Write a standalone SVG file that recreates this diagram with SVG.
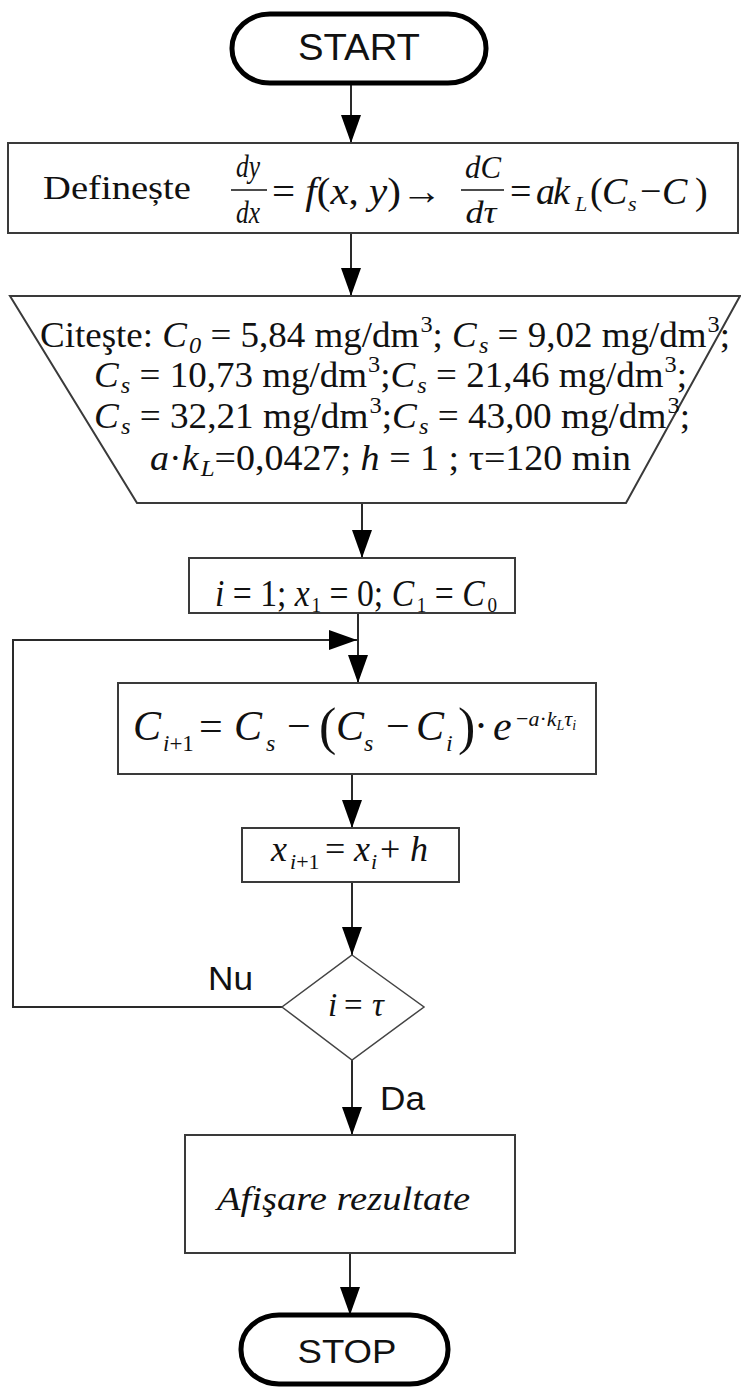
<svg xmlns="http://www.w3.org/2000/svg" width="741" height="1390" viewBox="0 0 741 1390">
<style>
.bx{fill:#fff;stroke:#3a3a3a;stroke-width:2}
.term{fill:#fff;stroke:#000;stroke-width:5}
.ln{fill:none;stroke:#2a2a2a;stroke-width:2}
.sans{font-family:"Liberation Sans",Arial,sans-serif;fill:#111}
.ser{font-family:"Liberation Serif","Times New Roman",serif;fill:#111}
.it{font-style:italic}
.up{font-style:normal}
</style>
<defs>
<marker id="ah" markerUnits="userSpaceOnUse" markerWidth="28" markerHeight="20" refX="28" refY="10" orient="auto">
<path d="M0,0 L28,10 L0,20 z" fill="#000"/>
</marker>
</defs>
<rect width="741" height="1390" fill="#fff"/>

<g id="connectors">
<line class="ln" x1="351" y1="83" x2="351" y2="143" marker-end="url(#ah)"/>
<line class="ln" x1="351" y1="233" x2="351" y2="296" marker-end="url(#ah)"/>
<line class="ln" x1="362" y1="503" x2="362" y2="558" marker-end="url(#ah)"/>
<line class="ln" x1="358" y1="613" x2="358" y2="683" marker-end="url(#ah)"/>
<polyline class="ln" points="282,1007 13,1007 13,640 357,640" marker-end="url(#ah)"/>
<line class="ln" x1="352" y1="774" x2="352" y2="828" marker-end="url(#ah)"/>
<line class="ln" x1="352" y1="882" x2="352" y2="955" marker-end="url(#ah)"/>
<line class="ln" x1="352" y1="1060" x2="352" y2="1135" marker-end="url(#ah)"/>
<line class="ln" x1="350" y1="1253" x2="350" y2="1315" marker-end="url(#ah)"/>
<text class="sans" x="208" y="990" font-size="33" textLength="45" lengthAdjust="spacingAndGlyphs">Nu</text>
<text class="sans" x="380" y="1110" font-size="33" textLength="45" lengthAdjust="spacingAndGlyphs">Da</text>
</g>

<g id="start">
<rect class="term" x="232" y="14" width="254" height="69" rx="38" ry="34"/>
<text class="sans" x="359" y="60" font-size="36" text-anchor="middle" textLength="122" lengthAdjust="spacingAndGlyphs">START</text>
</g>

<g id="define">
<rect class="bx" x="8" y="143" width="730" height="90"/>
<text class="ser" x="43" y="199" font-size="34" textLength="148" lengthAdjust="spacingAndGlyphs">Definește</text>
<text class="ser it" x="248" y="177" font-size="32" text-anchor="middle" textLength="24" lengthAdjust="spacingAndGlyphs">dy</text>
<line x1="231" y1="190" x2="267" y2="190" stroke="#111" stroke-width="1.5"/>
<text class="ser it" x="248" y="223" font-size="32" text-anchor="middle" textLength="24" lengthAdjust="spacingAndGlyphs">dx</text>
<text class="ser" x="272" y="204" font-size="38" textLength="170" lengthAdjust="spacingAndGlyphs">= <tspan class="it">f</tspan>(<tspan class="it">x</tspan>, <tspan class="it">y</tspan>)→</text>
<text class="ser it" x="483" y="178" font-size="32" text-anchor="middle" textLength="36" lengthAdjust="spacingAndGlyphs">dC</text>
<line x1="461" y1="190" x2="504" y2="190" stroke="#111" stroke-width="1.5"/>
<text class="ser it" x="481" y="223" font-size="32" text-anchor="middle" textLength="31" lengthAdjust="spacingAndGlyphs">dτ</text>
<text class="ser" y="204" font-size="38"><tspan x="510">=</tspan><tspan x="536" class="it">a</tspan><tspan x="553" class="it">k</tspan><tspan x="575" y="211" class="it" font-size="22">L</tspan><tspan x="590" y="204">(</tspan><tspan x="602" class="it">C</tspan><tspan x="628" y="211" class="it" font-size="22">s</tspan><tspan x="640" y="204">−</tspan><tspan x="662" class="it">C</tspan><tspan x="695">)</tspan></text>
</g>

<g id="read">
<polygon class="bx" points="10,296 740,296 626,503 137,503"/>
<text class="ser" x="40" y="347" font-size="35" textLength="690" lengthAdjust="spacingAndGlyphs">Citeşte: <tspan class="it">C</tspan><tspan class="it" font-size="23" dx="2" dy="6">0</tspan><tspan dy="-6"> = 5,84 mg/dm</tspan><tspan font-size="23" dx="1" dy="-15">3</tspan><tspan dy="15">; </tspan><tspan class="it">C</tspan><tspan class="it" font-size="23" dx="2" dy="6">s</tspan><tspan dy="-6"> = 9,02 mg/dm</tspan><tspan font-size="23" dx="1" dy="-15">3</tspan><tspan dy="15">;</tspan></text>
<text class="ser" x="94" y="387" font-size="35" textLength="593" lengthAdjust="spacingAndGlyphs"><tspan class="it">C</tspan><tspan class="it" font-size="23" dx="2" dy="6">s</tspan><tspan dy="-6"> = 10,73 mg/dm</tspan><tspan font-size="23" dx="1" dy="-15">3</tspan><tspan dy="15">;</tspan><tspan class="it">C</tspan><tspan class="it" font-size="23" dx="2" dy="6">s</tspan><tspan dy="-6"> = 21,46 mg/dm</tspan><tspan font-size="23" dx="1" dy="-15">3</tspan><tspan dy="15">;</tspan></text>
<text class="ser" x="94" y="428" font-size="35" textLength="596" lengthAdjust="spacingAndGlyphs"><tspan class="it">C</tspan><tspan class="it" font-size="23" dx="2" dy="6">s</tspan><tspan dy="-6"> = 32,21 mg/dm</tspan><tspan font-size="23" dx="1" dy="-15">3</tspan><tspan dy="15">;</tspan><tspan class="it">C</tspan><tspan class="it" font-size="23" dx="2" dy="6">s</tspan><tspan dy="-6"> = 43,00 mg/dm</tspan><tspan font-size="23" dx="1" dy="-15">3</tspan><tspan dy="15">;</tspan></text>
<text class="ser" x="150" y="470" font-size="35" textLength="481" lengthAdjust="spacingAndGlyphs"><tspan class="it">a</tspan>·<tspan class="it">k</tspan><tspan class="it" font-size="23" dx="2" dy="6">L</tspan><tspan dy="-6">=0,0427; </tspan><tspan class="it">h</tspan> = 1 ; τ=120 min</text>
</g>

<g id="init">
<rect class="bx" x="189" y="558" width="326" height="55"/>
<text class="ser" x="215" y="606" font-size="37" textLength="282" lengthAdjust="spacingAndGlyphs"><tspan class="it">i</tspan> = 1;  <tspan class="it">x</tspan><tspan font-size="21" dx="2" dy="6">1</tspan><tspan dy="-6"> = 0; </tspan><tspan class="it">C</tspan><tspan font-size="21" dx="3" dy="6">1</tspan><tspan dy="-6"> = </tspan><tspan class="it">C</tspan><tspan font-size="21" dx="3" dy="6">0</tspan></text>
</g>

<g id="compute">
<rect class="bx" x="118" y="683" width="478" height="91"/>
<text class="ser" y="740" font-size="42"><tspan x="133" class="it">C</tspan><tspan x="163" y="751" class="it" font-size="23">i</tspan><tspan font-size="23">+1</tspan><tspan x="199" y="740">=</tspan><tspan x="234" class="it">C</tspan><tspan x="266" y="751" class="it" font-size="24">s</tspan><tspan x="287" y="740">−</tspan><tspan x="319" y="744" font-size="52">(</tspan><tspan x="336" y="740" class="it">C</tspan><tspan x="364" y="751" class="it" font-size="24">s</tspan><tspan x="386" y="740">−</tspan><tspan x="416" class="it">C</tspan><tspan x="446" y="751" class="it" font-size="24">i</tspan><tspan x="458" y="744" font-size="52">)</tspan><tspan x="474" y="740">·</tspan><tspan x="493" class="it">e</tspan><tspan x="516" y="726" font-size="22">−</tspan><tspan class="it" font-size="22">a</tspan><tspan font-size="22">·</tspan><tspan class="it" font-size="22">k</tspan><tspan class="it" font-size="14" y="730">L</tspan><tspan class="it" font-size="22" y="726">τ</tspan><tspan class="it" font-size="14" y="730">i</tspan></text>
</g>

<g id="step">
<rect class="bx" x="242" y="828" width="217" height="54"/>
<text class="ser" y="861" font-size="36"><tspan x="271" class="it">x</tspan><tspan x="290" y="869" class="it" font-size="22">i</tspan><tspan font-size="22">+1</tspan><tspan x="325" y="861">=</tspan><tspan x="354" class="it">x</tspan><tspan x="371" y="869" class="it" font-size="22">i</tspan><tspan x="380" y="861">+</tspan><tspan x="410" class="it">h</tspan></text>
</g>

<g id="decision">
<polygon fill="#fff" stroke="#444" stroke-width="1.5" points="352,955 424,1007 352,1060 282,1007"/>
<text class="ser" y="1016" font-size="33"><tspan x="328" class="it">i</tspan><tspan x="344">=</tspan><tspan x="372" class="it">τ</tspan></text>
</g>

<g id="output">
<rect class="bx" x="185" y="1135" width="330" height="118"/>
<text class="ser it" x="217" y="1210" font-size="33" textLength="253" lengthAdjust="spacingAndGlyphs">Afişare rezultate</text>
</g>

<g id="stop">
<rect class="term" x="241" y="1315" width="207" height="69" rx="38" ry="34"/>
<text class="sans" x="347" y="1363" font-size="34" text-anchor="middle" textLength="99" lengthAdjust="spacingAndGlyphs">STOP</text>
</g>
</svg>
